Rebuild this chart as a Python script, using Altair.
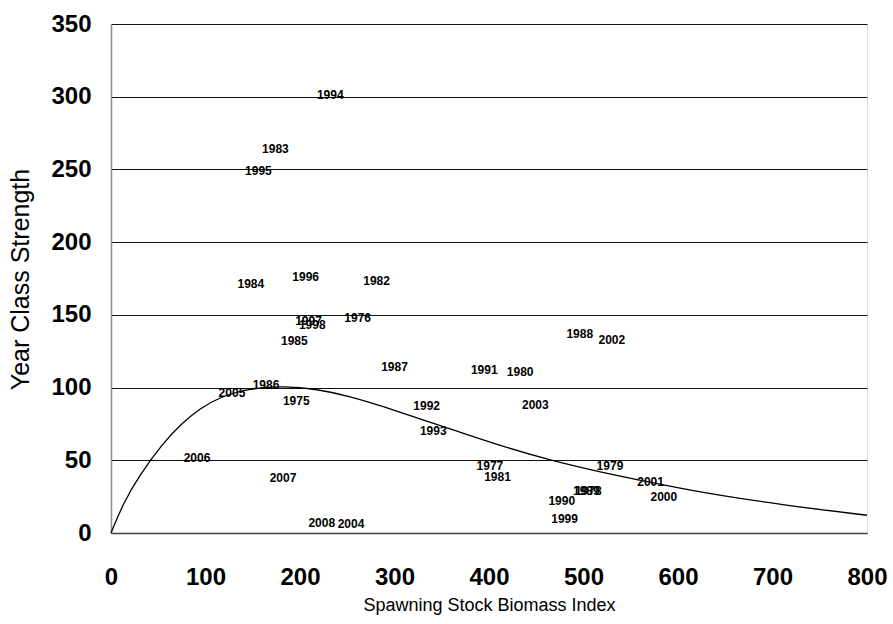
import altair as alt
import pandas as pd

# Year-class labels placed at (spawning stock biomass, year class strength)
years = [1975, 1976, 1977, 1978, 1979, 1980, 1981, 1982, 1983, 1984,
         1985, 1986, 1987, 1988, 1989, 1990, 1991, 1992, 1993, 1994,
         1995, 1996, 1997, 1998, 1999, 2000, 2001, 2002, 2003, 2004,
         2005, 2006, 2007, 2008]
ssb = [196, 261, 401, 505, 528, 433, 409, 281, 174, 148,
       194, 164, 300, 496, 503, 477, 395, 334, 341, 232,
       156, 206, 209, 213, 480, 585, 571, 530, 449, 254,
       128, 91, 182, 223]
ycs = [91, 148, 46, 29, 46, 111, 38.5, 173, 264, 171,
       132, 102, 114, 136.5, 29, 22, 112, 87, 70, 301,
       249, 176, 146, 143, 9.5, 25, 35, 133, 88, 6,
       96, 51.5, 38, 7]

# Fitted stock-recruitment curve
curve_s = [0, 13, 30, 55, 76, 94, 115, 147, 182, 218, 253, 288, 324,
           359, 412, 465, 518, 570, 623, 708, 800]
curve_r = [0, 20.5, 39.5, 62, 76, 85.5, 93.5, 99.5, 101, 99, 94, 87,
           79, 71.7, 60, 50, 41.9, 35, 28, 19.5, 12.2]

points = pd.DataFrame({"year": [str(y) for y in years], "ssb": ssb, "ycs": ycs})
curve = pd.DataFrame({"ssb": curve_s, "ycs": curve_r})

FONT = "Liberation Sans"

x_scale = alt.Scale(domain=[0, 800], nice=False, zero=True)
y_scale = alt.Scale(domain=[0, 350], nice=False, zero=True)

x_axis = alt.Axis(
    values=[0, 100, 200, 300, 400, 500, 600, 700, 800],
    title="Spawning Stock Biomass Index",
    grid=False, ticks=False,
    domainColor="#404040", domainWidth=1.5,
    labelFont=FONT, labelFontSize=24, labelFontWeight="bold", labelColor="black",
    labelPadding=32, labelFlush=False,
    titleFont=FONT, titleFontSize=18, titleFontWeight="normal", titleColor="black",
    titleX=378, titleY=72, titleBaseline="middle",
)
y_axis = alt.Axis(
    values=[0, 50, 100, 150, 200, 250, 300, 350],
    title="Year Class Strength",
    grid=True, gridColor="#111111", gridWidth=1, gridOpacity=1,
    ticks=False,
    domainColor="#8a8a8a", domainWidth=1.5,
    labelFont=FONT, labelFontSize=24, labelFontWeight="bold", labelColor="black",
    labelPadding=20, labelFlush=False,
    titleFont=FONT, titleFontSize=25, titleFontWeight="normal", titleColor="black",
    titleX=-91, titleY=255, titleAngle=-90, titleBaseline="middle", titleAlign="center",
)

line = alt.Chart(curve).mark_line(color="black", strokeWidth=1.3, interpolate="basis").encode(
    x=alt.X("ssb:Q", scale=x_scale, axis=x_axis),
    y=alt.Y("ycs:Q", scale=y_scale, axis=y_axis),
)

labels = alt.Chart(points).mark_text(
    font=FONT, fontSize=12, fontWeight="bold", color="black",
    align="center", baseline="middle",
).encode(
    x=alt.X("ssb:Q", scale=x_scale),
    y=alt.Y("ycs:Q", scale=y_scale),
    text="year:N",
)

chart = alt.layer(line, labels).properties(
    width=756, height=509,
    autosize=alt.AutoSizeParams(type="none"),
    padding={"left": 111, "top": 24, "right": 26, "bottom": 91},
).configure_view(stroke=None).configure(background="white")

chart.save("out.html", embed_options={"renderer": "svg", "actions": False})
